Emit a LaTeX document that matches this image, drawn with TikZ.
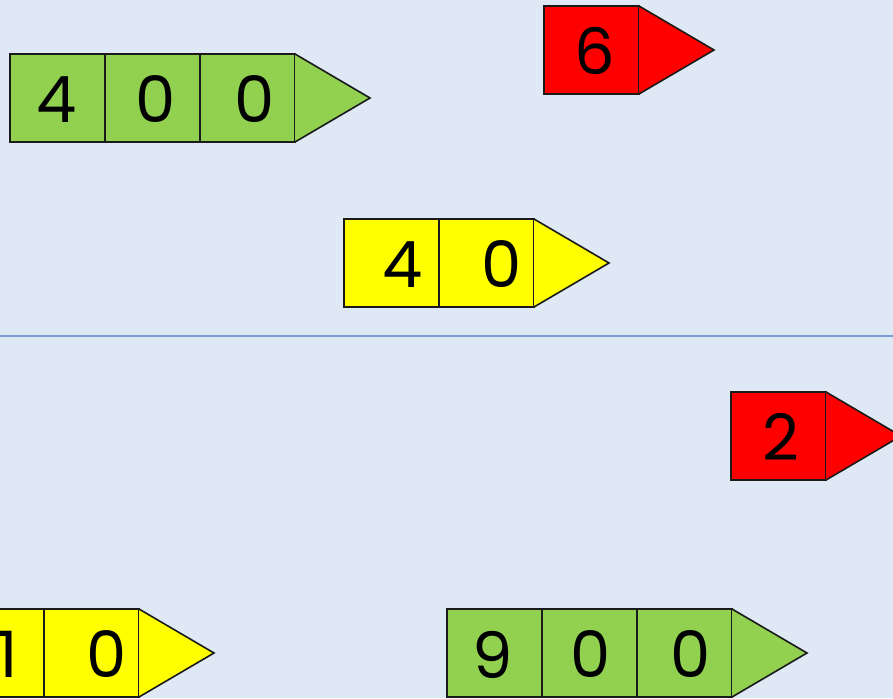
\documentclass[tikz,border=0pt]{standalone}
\usepackage{fontspec}
\setmainfont{Poppins}
\definecolor{bg}{HTML}{DEE9F5}
\definecolor{gr}{HTML}{92D050}
\definecolor{rd}{HTML}{FF0000}
\definecolor{yl}{HTML}{FFFF00}
\definecolor{ln}{HTML}{7C9ED6}
\definecolor{edge}{HTML}{1A1A1A}
\tikzset{
  cell/.style={draw=edge, line width=1.6pt, rectangle, minimum width=95pt, minimum height=88pt, inner sep=0pt, outer sep=0pt, anchor=north west},
  digit/.style={inner sep=0pt, outer sep=0pt, font=\fontsize{64}{64}\selectfont},
  tipshape/.style={draw=edge, line width=1.6pt, line join=miter},
}
\begin{document}
\begin{tikzpicture}[x=1pt,y=-1pt]
\fill[bg] (0,0) rectangle (893,698);
\useasboundingbox (0,0) rectangle (893,698);
\draw[ln, line width=2.4pt] (0,336) -- (893,336);

% green 400
\node[cell, fill=gr] (a1) at (10,54) {};
\node[cell, fill=gr] (a2) at (105,54) {};
\node[cell, fill=gr] (a3) at (200,54) {};
\fill[gr] (a3.north east) -- (370,98) -- (a3.south east) -- cycle;
\draw[tipshape] (a3.north east) -- (370,98) -- (a3.south east);
\node[digit] (d1) at ([xshift=-1pt,yshift=-1.5pt]a1.center) {4};
\node[digit] (d2) at ([xshift=3.5pt,yshift=-1.5pt]a2.center) {0};
\node[digit] (d3) at ([xshift=7pt,yshift=-1.5pt]a3.center) {0};

% red 6
\node[cell, fill=rd] (b1) at (544,6) {};
\fill[rd] (b1.north east) -- (714,50) -- (b1.south east) -- cycle;
\draw[tipshape] (b1.north east) -- (714,50) -- (b1.south east);
\node[digit] (e1) at ([xshift=3.5pt,yshift=-1pt]b1.center) {6};

% yellow 40
\node[cell, fill=yl] (c1) at (344,219) {};
\node[cell, fill=yl] (c2) at (439,219) {};
\fill[yl] (c2.north east) -- (609,263) -- (c2.south east) -- cycle;
\draw[tipshape] (c2.north east) -- (609,263) -- (c2.south east);
\node[digit] (f1) at ([xshift=11.5pt,yshift=-1.5pt]c1.center) {4};
\node[digit] (f2) at ([xshift=15pt,yshift=-1.5pt]c2.center) {0};

% red 2
\node[cell, fill=rd] (g1) at (731,392) {};
\fill[rd] (g1.north east) -- (901,436) -- (g1.south east) -- cycle;
\draw[tipshape] (g1.north east) -- (901,436) -- (g1.south east);
\node[digit] (h1) at ([xshift=2.5pt,yshift=-1pt]g1.center) {2};

% yellow 10
\node[cell, fill=yl] (i1) at (-51,609) {};
\node[cell, fill=yl] (i2) at (44,609) {};
\fill[yl] (i2.north east) -- (214,653) -- (i2.south east) -- cycle;
\draw[tipshape] (i2.north east) -- (214,653) -- (i2.south east);
\node[digit] (j1) at ([xshift=11.5pt,yshift=-1.5pt]i1.center) {1};
\node[digit] (j2) at ([xshift=15pt,yshift=-1.5pt]i2.center) {0};

% green 900
\node[cell, fill=gr] (k1) at (447,609) {};
\node[cell, fill=gr] (k2) at (542,609) {};
\node[cell, fill=gr] (k3) at (637,609) {};
\fill[gr] (k3.north east) -- (807,653) -- (k3.south east) -- cycle;
\draw[tipshape] (k3.north east) -- (807,653) -- (k3.south east);
\node[digit] (l1) at ([xshift=-2pt,yshift=-1.5pt]k1.center) {9};
\node[digit] (l2) at ([xshift=1.5pt,yshift=-1.5pt]k2.center) {0};
\node[digit] (l3) at ([xshift=6.5pt,yshift=-1.5pt]k3.center) {0};
\end{tikzpicture}
\end{document}
